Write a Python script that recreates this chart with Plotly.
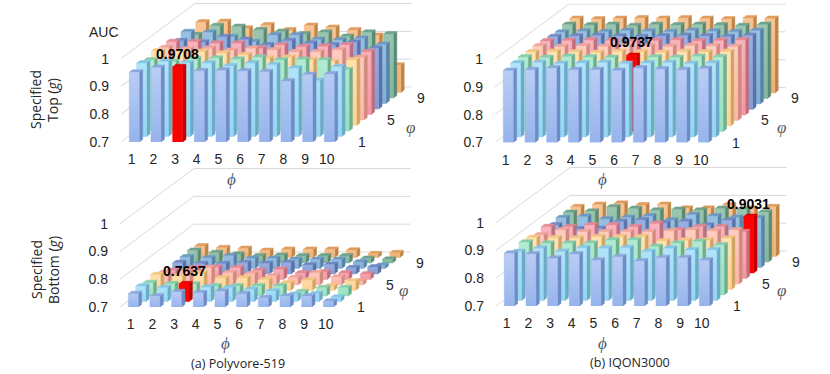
import plotly.graph_objects as go

phi = [1, 2, 3, 4, 5, 6, 7, 8, 9, 10]
tick_values = [0.7, 0.8, 0.9, 1]
depth_labels = {0: "1", 4: "5", 8: "9"}

# rows run front to back, one list per varphi setting
top_polyvore = [
    [.951, .968, .9708, .956, .958, .955, .953, .919, .943, .945],
    [.964, .970, .965, .964, .954, .964, .958, .946, .901, .951],
    [.955, .950, .960, .962, .958, .965, .955, .957, .955, .920],
    [.968, .966, .966, .960, .954, .942, .945, .936, .930, .936],
    [.960, .955, .958, .950, .958, .952, .945, .945, .952, .925],
    [.962, .962, .956, .956, .938, .950, .944, .945, .950, .926],
    [.945, .940, .960, .950, .930, .945, .936, .930, .940, .918],
    [.958, .956, .940, .922, .946, .946, .930, .928, .934, .912],
    [.927, .960, .957, .945, .939, .930, .936, .921, .936, .930],
    [.953, .955, .931, .943, .925, .941, .934, .925, .905, .798],
]
top_iqon = [
    [.959, .962, .968, .962, .962, .959, .968, .964, .962, .966],
    [.966, .968, .964, .966, .968, .964, .966, .968, .964, .966],
    [.968, .966, .970, .968, .966, .9737, .968, .966, .970, .968],
    [.966, .968, .966, .964, .968, .966, .964, .968, .966, .968],
    [.968, .966, .968, .966, .970, .968, .966, .970, .968, .966],
    [.966, .968, .970, .968, .966, .968, .970, .966, .968, .970],
    [.962, .964, .966, .964, .962, .964, .966, .964, .962, .966],
    [.958, .962, .960, .964, .962, .960, .964, .962, .960, .964],
    [.966, .964, .966, .962, .966, .964, .966, .964, .962, .966],
    [.968, .966, .968, .970, .968, .970, .968, .966, .970, .968],
]
bottom_polyvore = [
    [.748, .739, .755, .751, .757, .748, .733, .739, .739, .721],
    [.755, .749, .7637, .751, .749, .743, .737, .725, .728, .715],
    [.748, .744, .742, .736, .736, .736, .736, .715, .730, .730],
    [.757, .751, .763, .745, .745, .739, .727, .736, .715, .733],
    [.744, .750, .762, .744, .740, .732, .726, .744, .728, .714],
    [.732, .742, .744, .742, .732, .736, .723, .727, .723, .720],
    [.740, .737, .737, .740, .738, .740, .732, .734, .722, .725],
    [.741, .738, .746, .736, .736, .732, .732, .732, .723, .711],
    [.745, .737, .731, .725, .727, .725, .725, .725, .716, .713],
    [.741, .735, .732, .725, .729, .729, .729, .726, .713, .717],
]
bottom_iqon = [
    [.890, .887, .872, .887, .865, .877, .862, .874, .874, .865],
    [.876, .888, .876, .890, .888, .890, .876, .888, .882, .882],
    [.890, .886, .886, .886, .898, .898, .874, .886, .892, .880],
    [.886, .886, .884, .890, .890, .890, .874, .877, .877, .884],
    [.876, .894, .888, .888, .888, .888, .891, .894, .891, .894],
    [.886, .886, .892, .892, .886, .898, .874, .886, .886, .868],
    [.873, .858, .860, .885, .891, .880, .885, .872, .890, .9031],
    [.879, .883, .874, .880, .885, .870, .890, .885, .880, .878],
    [.878, .882, .898, .892, .886, .889, .886, .892, .889, .879],
    [.879, .887, .891, .885, .887, .873, .873, .885, .873, .879],
]

# front top, front bottom, side and top colour per row
row_colors = [
    ("#BACEF5", "#96B4EC", "#6F8BC4", "#8AA6DC"),
    ("#B3E4FA", "#92D6F4", "#6FA9C8", "#86C6E4"),
    ("#B3EBD1", "#96E0BD", "#6CAE8F", "#86CDAB"),
    ("#FFE3B3", "#FFD392", "#CFA565", "#F2C680"),
    ("#FFCDC2", "#FFB5A8", "#CF8A7E", "#F0A598"),
    ("#F9B4BE", "#F397A6", "#C06E7C", "#E38795"),
    ("#99B0E3", "#829DD6", "#5A72A8", "#7089C2"),
    ("#99C1E3", "#80AED6", "#5A82A8", "#6E9AC2"),
    ("#9AC7B1", "#82B69E", "#5A8A74", "#70A38A"),
    ("#F7C596", "#F0B074", "#BD8446", "#E09C5E"),
]
red_colors = ("#FF0000", "#FF0000", "#C00000", "#E00000")

PX_X = 21.67  # pixels per phi unit
PX_Y = 278.0  # pixels per AUC unit
ROW_DX = 0.341
ROW_DY = 0.0198
BAR_W = 0.46
BAR_DX = 0.155
BAR_DY = 0.009
LABEL_SHIFT = 0.12

# left and bottom pixel of the 0.7 corner for each panel
panels = [
    dict(values=top_polyvore, left=121, base=142, best=(0, 2)),
    dict(values=top_iqon, left=495, base=142.5, best=(2, 5)),
    dict(values=bottom_polyvore, left=120, base=307, best=(1, 2)),
    dict(values=bottom_iqon, left=496, base=306, best=(6, 9)),
]

fig = go.Figure()


def faces(cols, row, values):
    front, side, top = [], [], []
    for c in cols:
        x0 = phi[c] - BAR_W / 2 + row * ROW_DX
        x1 = x0 + BAR_W
        y0 = 0.7 + row * ROW_DY
        y1 = y0 + values[row][c] - 0.7
        front += [(x0, y0), (x1, y0), (x1, y1), (x0, y1), (x0, y0), (None, None)]
        side += [(x1, y0), (x1 + BAR_DX, y0 + BAR_DY), (x1 + BAR_DX, y1 + BAR_DY), (x1, y1), (x1, y0), (None, None)]
        top += [(x0, y1), (x1, y1), (x1 + BAR_DX, y1 + BAR_DY), (x0 + BAR_DX, y1 + BAR_DY), (x0, y1), (None, None)]
    return front, side, top


def add_poly(points, xa, ya, color, line=None, gradient=None):
    fig.add_trace(go.Scatter(
        x=[p[0] for p in points], y=[p[1] for p in points],
        xaxis=xa, yaxis=ya, mode="lines", fill="toself", hoverinfo="skip",
        fillcolor=color, fillgradient=gradient,
        line=dict(color=line or color, width=0.5),
    ))


def add_bars(cols, row, values, xa, ya, colors):
    front, side, top = faces(cols, row, values)
    add_poly(side, xa, ya, colors[2])
    add_poly(top, xa, ya, colors[3])
    grad = dict(type="vertical", colorscale=[[0, colors[1]], [1, colors[0]]])
    add_poly(front, xa, ya, colors[1], line=colors[1], gradient=grad)


for i, p in enumerate(panels):
    n = "" if i == 0 else str(i + 1)
    xa, ya = "x" + n, "y" + n
    x_start = 1 - 13.3 / PX_X
    wide = 310
    tall = 139
    fig.update_layout({
        "xaxis" + n: dict(
            domain=[p["left"] / 830, (p["left"] + wide) / 830],
            range=[x_start, x_start + wide / PX_X],
            tickvals=[v - LABEL_SHIFT for v in phi], ticktext=[str(v) for v in phi],
            showgrid=False, zeroline=False, showline=False, ticks="",
            ticklabelstandoff=7, anchor=ya, automargin=False,
            tickfont=dict(family="Liberation Sans", size=14, color="#262626"),
        ),
        "yaxis" + n: dict(
            domain=[1 - p["base"] / 374, 1 - (p["base"] - tall) / 374],
            range=[0.7, 0.7 + tall / PX_Y],
            tickvals=tick_values, ticktext=["0.7", "0.8", "0.9", "1"],
            showgrid=False, zeroline=False, showline=False, ticks="",
            ticklabelstandoff=11, anchor=xa, automargin=False,
            tickfont=dict(family="Liberation Sans", size=14, color="#262626"),
        ),
    })

    # back wall and side wall gridlines
    for t in tick_values:
        fig.add_trace(go.Scatter(
            x=[x_start, x_start + 10 * ROW_DX, x_start + 10 * ROW_DX + 10],
            y=[t, t + 10 * ROW_DY, t + 10 * ROW_DY],
            xaxis=xa, yaxis=ya, mode="lines", hoverinfo="skip",
            line=dict(color="#D9D9D9", width=1),
        ))

    for row in range(9, -1, -1):
        cols = [c for c in range(10) if (row, c) != p["best"]]
        add_bars(cols, row, p["values"], xa, ya, row_colors[row])
        if row == p["best"][0]:
            add_bars([p["best"][1]], row, p["values"], xa, ya, red_colors)

    r, c = p["best"]
    fig.add_annotation(
        x=phi[c] + r * ROW_DX, y=p["values"][r][c] + r * ROW_DY,
        xref=xa, yref=ya, text=f"<b>{p['values'][r][c]:.4f}</b>", showarrow=False,
        yanchor="bottom", xanchor="center", yshift=3,
        font=dict(family="Liberation Sans", size=14, color="#000000"),
    )
    for row, label in depth_labels.items():
        fig.add_annotation(
            x=phi[-1] + row * ROW_DX + 1.5, y=0.7 + row * ROW_DY,
            xref=xa, yref=ya, text=label, showarrow=False, xanchor="center", yanchor="middle",
            font=dict(family="Liberation Sans", size=14, color="#262626"),
        )


def paper_text(x, y, text, size=14, color="#262626", angle=0, family="Open Sans"):
    fig.add_annotation(
        x=x / 830, y=1 - y / 374, xref="paper", yref="paper", text=text, showarrow=False,
        xanchor="center", yanchor="middle",
        textangle=angle, font=dict(family=family, size=size, color=color),
    )


paper_text(104, 32, "AUC", size=14, family="Liberation Sans")
for x, y in [(231, 179), (602, 179), (225, 343), (602, 343)]:
    paper_text(x, y, "<i>ϕ</i>", size=17, color="#44546A", family="Liberation Serif")
for x, y in [(410, 127), (781, 127), (403, 290), (781, 290)]:
    paper_text(x, y, "<i>φ</i>", size=17, color="#5A5A5A", family="Liberation Serif")
paper_text(238, 363, "(a) Polyvore-519", size=12.6)
paper_text(630, 362, "(b) IQON3000", size=12.6)
paper_text(36, 100, "Specified", angle=-90)
paper_text(53, 100, "Top (<i>g</i>)", angle=-90)
paper_text(36, 270, "Specified", angle=-90)
paper_text(53, 270, "Bottom (<i>g</i>)", angle=-90)

fig.update_layout(
    width=830, height=374, margin=dict(l=0, r=0, t=0, b=0),
    paper_bgcolor="white", plot_bgcolor="rgba(0,0,0,0)", showlegend=False,
)
fig.write_html("out.html", config=dict(displayModeBar=False),
               post_script="document.body.style.margin='0';")
